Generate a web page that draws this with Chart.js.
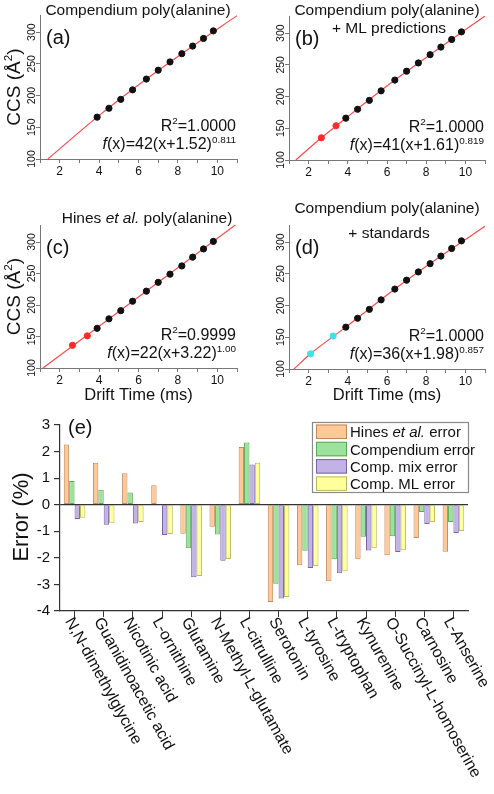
<!DOCTYPE html>
<html>
<head>
<meta charset="utf-8">
<script src="https://cdn.jsdelivr.net/npm/chart.js@4.4.1/dist/chart.umd.min.js"></script>
<style>
  body { margin: 0; background: #fff; width: 494px; height: 794px; position: relative; overflow: hidden; }
  canvas { position: absolute; }
</style>
</head>
<body>
<canvas id="pa" style="left:0;top:0" width="247" height="195"></canvas>
<canvas id="pb" style="left:247px;top:0" width="247" height="195"></canvas>
<canvas id="pc" style="left:0;top:195px" width="247" height="215"></canvas>
<canvas id="pd" style="left:247px;top:195px" width="247" height="215"></canvas>
<canvas id="pe" style="left:0;top:410px" width="494" height="384"></canvas>
<script>
// ---- calibration panels (drift time in ms, CCS in A^2) ----
const polyTime = [3.9, 4.5, 5.1, 5.7, 6.4, 7.0, 7.6, 8.2, 8.75, 9.3, 9.8];
const ccsA = [166, 180, 194, 209, 226, 240, 253, 266, 278, 290, 302];
const ccsB = [166, 180, 194, 209, 226, 240, 253, 266, 278, 290, 302];
const ccsC = [163, 178, 191, 206, 222, 236, 249, 262, 276, 289, 301];
const ccsD = [166, 180, 194, 209, 226, 240, 253, 266, 278, 290, 302];

const mlTime = [2.65, 3.4];
const mlCcs = [135, 154];
const hinesTime = [2.65, 3.4];
const hinesCcs = [136, 151];
const stdTime = [2.1, 3.25];
const stdCcs = [124, 152];

// fitted curves
const fitAX = [1.4, 3.9, 6.4, 8.75, 11];
const fitAY = [100, 166, 226, 278, 326];
const fitBX = [1.35, 2.65, 3.9, 6.4, 8.75, 11];
const fitBY = [100, 135, 166, 226, 278, 327];
const fitCX = [1.15, 11];
const fitCY = [100, 329];
const fitDX = [1.25, 2.1, 3.9, 6.4, 8.75, 11];
const fitDY = [100, 124, 166, 226, 278, 325];

const driftTicks = [2, 4, 6, 8, 10];

// ---- error panel (%) ----
const compounds = ["N,N-dimethylglycine", "Guanidinoacetic acid", "Nicotinic acid", "L-ornithine",
  "Glutamine", "N-Methyl-L-glutamate", "L-citrulline", "Serotonin", "L-tyrosine", "L-tryptophan",
  "Kynurenine", "O-Succinyl-L-homoserine", "Carnosine", "L-Anserine"];
const hinesErr = [2.27, 1.58, 1.18, 0.73, -1.09, -0.83, 2.17, -3.66, -2.28, -2.88, -2.05, -1.90, -1.25, -1.77];
const compErr  = [0.89, 0.56, 0.46, 0, -1.64, -1.12, 2.34, -2.97, -1.73, -2.05, -1.21, -1.19, -0.27, -0.65];
const mixErr   = [-0.54, -0.75, -0.71, -1.14, -2.73, -2.11, 1.51, -3.53, -2.38, -2.58, -1.72, -1.78, -0.73, -1.06];
const mlErr    = [-0.49, -0.70, -0.65, -1.10, -2.68, -2.04, 1.58, -3.47, -2.31, -2.50, -1.64, -1.71, -0.65, -0.99];

const FONT = '"Liberation Sans", Arial, sans-serif';
const RED = '#ff4a4a';

function xy(xs, ys) { return xs.map((x, i) => ({ x: x, y: ys[i] })); }

function fontFor(p, size) {
  const s = p.sup ? size * 0.62 : size;
  return (p.it ? 'italic ' : '') + s + 'px ' + FONT;
}

// draws mixed italic / superscript text, y is the text centre
function drawRich(ctx, parts, x, y, size, align) {
  let w = 0;
  parts.forEach(p => { ctx.font = fontFor(p, size); w += ctx.measureText(p.t).width; });
  let cx = align === 'right' ? x - w : align === 'center' ? x - w / 2 : x;
  const base = y + size * 0.36;
  ctx.textAlign = 'left';
  ctx.textBaseline = 'alphabetic';
  parts.forEach(p => {
    ctx.font = fontFor(p, size);
    ctx.fillText(p.t, cx, p.sup ? base - size * 0.42 : base);
    cx += ctx.measureText(p.t).width;
  });
}

function scatterPanel(id, o) {
  const datasets = [
    { type: 'line', data: xy(o.fitX, o.fitY), borderColor: RED, borderWidth: 1.2,
      pointRadius: 0, cubicInterpolationMode: 'monotone', order: 3 },
    { data: xy(polyTime, o.ccs), backgroundColor: '#111', borderColor: '#111',
      pointRadius: 3.1, order: 1 }
  ];
  if (o.extraX) {
    datasets.push({ data: xy(o.extraX, o.extraY), backgroundColor: o.extraColor,
      borderColor: o.extraColor, pointRadius: 3.1, order: 2 });
  }

  const textPlugin = {
    id: 'panelText',
    afterDraw(chart) {
      const ctx = chart.ctx;
      const a = chart.chartArea;
      const ys = chart.scales.y;
      ctx.save();
      ctx.fillStyle = '#111';

      // rotated y tick labels
      ctx.font = '10.5px ' + FONT;
      ctx.textAlign = 'center';
      ctx.textBaseline = 'middle';
      ys.ticks.forEach(t => {
        const py = ys.getPixelForValue(t.value);
        ctx.save();
        ctx.translate(a.left - 8, py);
        ctx.rotate(-Math.PI / 2);
        ctx.fillText(String(t.value), 0, 0);
        ctx.restore();
      });

      if (o.yTitle) {
        ctx.save();
        ctx.translate(13, (a.top + a.bottom) / 2);
        ctx.rotate(-Math.PI / 2);
        drawRich(ctx, [{ t: 'CCS (Å' }, { t: '2', sup: true }, { t: ')' }], 0, 0, 19, 'center');
        ctx.restore();
      }
      if (o.xTitle) {
        ctx.font = '16.5px ' + FONT;
        ctx.textAlign = 'center';
        ctx.textBaseline = 'middle';
        ctx.fillText('Drift Time (ms)', (a.left + a.right) / 2, o.xTitleY);
      }

      o.titles.forEach(tl => drawRich(ctx, tl.parts, tl.x, tl.y, 15.5, 'center'));

      ctx.font = '20px ' + FONT;
      ctx.textAlign = 'left';
      ctx.textBaseline = 'middle';
      ctx.fillText(o.letter, a.left + 6, a.top + 23);

      drawRich(ctx, [{ t: 'R' }, { t: '2', sup: true }, { t: '=' + o.r2 }], a.right - 1, a.bottom - 34, 16, 'right');
      drawRich(ctx, [{ t: 'f', it: true }, { t: '(x)=' + o.fit }, { t: o.exp, sup: true }],
        a.right - 1, a.bottom - 15.5, 16, 'right');
      ctx.restore();
    }
  };

  return new Chart(document.getElementById(id), {
    type: 'scatter',
    data: { datasets: datasets },
    options: {
      responsive: false,
      animation: false,
      devicePixelRatio: 1,
      layout: { padding: { left: 0, top: o.top, right: o.right, bottom: 0 } },
      plugins: { legend: { display: false }, tooltip: { enabled: false } },
      scales: {
        x: {
          type: 'linear', min: 1, max: 11,
          ticks: {
            stepSize: 1, autoSkip: false, maxRotation: 0, padding: 1,
            color: '#111', font: { size: 12, family: FONT },
            callback: v => driftTicks.includes(v) ? String(v) : ''
          },
          grid: { drawOnChartArea: false, tickLength: 4, color: '#777' },
          border: { color: '#777' },
          afterFit: s => { s.height = o.xh; }
        },
        y: {
          min: 100, max: 327,
          ticks: { stepSize: 50, includeBounds: false, callback: () => '' },
          grid: { drawOnChartArea: false, tickLength: 4, color: '#777' },
          border: { color: '#777' },
          afterFit: s => { s.width = o.yw; }
        }
      }
    },
    plugins: [textPlugin]
  });
}

scatterPanel('pa', {
  ccs: ccsA, fitX: fitAX, fitY: fitAY, top: 15, right: 10, xh: 36, yw: 40,
  yTitle: true, letter: '(a)', r2: '1.0000', fit: '42(x+1.52)', exp: '0.811',
  titles: [{ parts: [{ t: 'Compendium poly(alanine)' }], x: 138, y: 9 }]
});
scatterPanel('pb', {
  ccs: ccsB, fitX: fitBX, fitY: fitBY, extraX: mlTime, extraY: mlCcs, extraColor: '#ff2a2a',
  top: 16, right: 9, xh: 35, yw: 42,
  letter: '(b)', r2: '1.0000', fit: '41(x+1.61)', exp: '0.819',
  titles: [{ parts: [{ t: 'Compendium poly(alanine)' }], x: 140, y: 9 },
           { parts: [{ t: '+ ML predictions' }], x: 142, y: 27 }]
});
scatterPanel('pc', {
  ccs: ccsC, fitX: fitCX, fitY: fitCY, extraX: hinesTime, extraY: hinesCcs, extraColor: '#ff2a2a',
  top: 30, right: 10, xh: 42, yw: 40,
  yTitle: true, xTitle: true, xTitleY: 200, letter: '(c)', r2: '0.9999', fit: '22(x+3.22)', exp: '1.00',
  titles: [{ parts: [{ t: 'Hines ' }, { t: 'et al.', it: true }, { t: ' poly(alanine)' }], x: 147, y: 22 }]
});
scatterPanel('pd', {
  ccs: ccsD, fitX: fitDX, fitY: fitDY, extraX: stdTime, extraY: stdCcs, extraColor: '#3fe0e6',
  top: 30, right: 9, xh: 41, yw: 42,
  xTitle: true, xTitleY: 200, letter: '(d)', r2: '1.0000', fit: '36(x+1.98)', exp: '0.857',
  titles: [{ parts: [{ t: 'Compendium poly(alanine)' }], x: 140, y: 12 },
           { parts: [{ t: '+ standards' }], x: 142, y: 37 }]
});

// ---- (e) error bars ----
const barFills = ['#ffc896', '#9de29a', '#c3b2e6', '#ffff9c'];
const barEdges = ['#c28a5c', '#5aa85a', '#7563a8', '#b8b85c'];
const legendParts = [
  [{ t: 'Hines ' }, { t: 'et al.', it: true }, { t: ' error' }],
  [{ t: 'Compendium error' }],
  [{ t: 'Comp. mix error' }],
  [{ t: 'Comp. ML error' }]
];

const errPlugin = {
  id: 'errText',
  afterDraw(chart) {
    const ctx = chart.ctx;
    const a = chart.chartArea;
    const xs = chart.scales.x;
    ctx.save();
    ctx.fillStyle = '#111';

    // slanted compound names
    ctx.font = '16px ' + FONT;
    ctx.textAlign = 'left';
    ctx.textBaseline = 'top';
    chart.data.labels.forEach((lab, i) => {
      const px = xs.getPixelForTick(i);
      ctx.save();
      ctx.translate(px + 1, a.bottom + 4);
      ctx.rotate(Math.PI / 180 * 61);
      ctx.fillText(lab, 0, 0);
      ctx.restore();
    });

    // y title
    ctx.save();
    ctx.translate(22, (a.top + a.bottom) / 2 - 1);
    ctx.rotate(-Math.PI / 2);
    ctx.font = '22px ' + FONT;
    ctx.textAlign = 'center';
    ctx.textBaseline = 'middle';
    ctx.fillText('Error (%)', 0, 0);
    ctx.restore();

    ctx.font = '20px ' + FONT;
    ctx.textAlign = 'left';
    ctx.textBaseline = 'middle';
    ctx.fillText('(e)', 68, 18);

    // legend box
    const lx = 312, ly = 12, lw = 156, lh = 70;
    ctx.fillStyle = '#fff';
    ctx.fillRect(lx, ly, lw, lh);
    ctx.strokeStyle = '#8a8a8a';
    ctx.lineWidth = 1.2;
    ctx.strokeRect(lx + 0.5, ly + 0.5, lw, lh);
    chart.data.datasets.forEach((ds, i) => {
      const ry = ly + 2.5 + i * 17.3;
      ctx.fillStyle = ds.backgroundColor;
      ctx.fillRect(lx + 4, ry, 31, 14.5);
      ctx.strokeStyle = ds.borderColor;
      ctx.lineWidth = 1;
      ctx.strokeRect(lx + 4.5, ry + 0.5, 30, 13.5);
      ctx.fillStyle = '#111';
      drawRich(ctx, legendParts[i], lx + 38, ry + 7.5, 15, 'left');
    });
    ctx.restore();
  }
};

new Chart(document.getElementById('pe'), {
  type: 'bar',
  data: {
    labels: compounds,
    datasets: [hinesErr, compErr, mixErr, mlErr].map((d, i) => ({
      data: d, backgroundColor: barFills[i], borderColor: barEdges[i],
      borderWidth: 1, borderSkipped: false
    }))
  },
  options: {
    responsive: false,
    animation: false,
    devicePixelRatio: 1,
    layout: { padding: { left: 0, top: 15, right: 26, bottom: 0 } },
    datasets: { bar: { categoryPercentage: 0.74, barPercentage: 1 } },
    plugins: { legend: { display: false }, tooltip: { enabled: false } },
    scales: {
      x: {
        ticks: { autoSkip: false, maxRotation: 0, callback: () => '' },
        grid: { offset: false, drawOnChartArea: false, tickLength: 6, color: '#333' },
        border: { color: '#333', width: 1.2 },
        afterFit: s => { s.height = 183; }
      },
      y: {
        min: -4, max: 3,
        ticks: { stepSize: 1, padding: 4, color: '#111', font: { size: 15, family: FONT } },
        grid: {
          tickLength: 6, tickColor: '#333', lineWidth: 1.2,
          color: c => (c.tick && c.tick.value === 0 ? '#333' : 'rgba(0,0,0,0)')
        },
        border: { color: '#333', width: 1.2 },
        afterFit: s => { s.width = 60; }
      }
    }
  },
  plugins: [errPlugin]
});
</script>
</body>
</html>
